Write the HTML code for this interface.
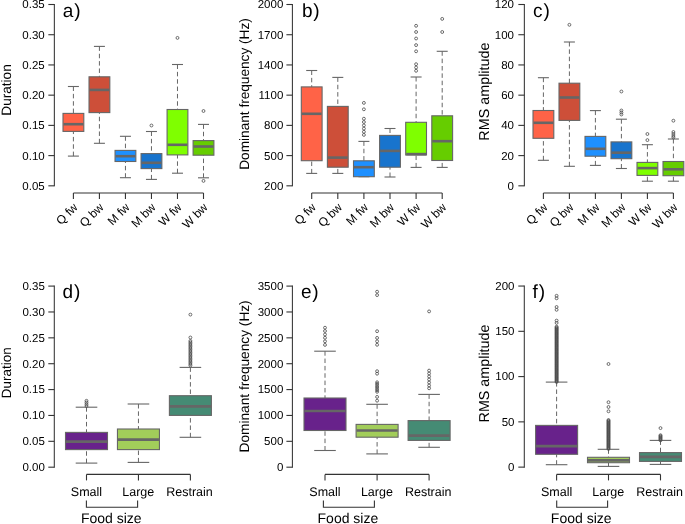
<!DOCTYPE html>
<html><head><meta charset="utf-8"><style>
html,body{margin:0;padding:0;background:#fff;}
body{width:685px;height:524px;overflow:hidden;}
svg{display:block;font-family:"Liberation Sans",sans-serif;text-rendering:geometricPrecision;will-change:transform;}
</style></head><body>
<svg width="685" height="524" viewBox="0 0 685 524">
<rect width="685" height="524" fill="#fff"/>
<line x1="54.35" y1="4" x2="54.35" y2="186.32" stroke="#333333" stroke-width="1.05"/>
<line x1="48.35" y1="4.5" x2="54.35" y2="4.5" stroke="#333333" stroke-width="1.1"/>
<text x="44.7" y="8.4" text-anchor="end" font-size="11.5">0.35</text>
<line x1="48.35" y1="34.72" x2="54.35" y2="34.72" stroke="#333333" stroke-width="1.1"/>
<text x="44.7" y="38.62" text-anchor="end" font-size="11.5">0.30</text>
<line x1="48.35" y1="64.94" x2="54.35" y2="64.94" stroke="#333333" stroke-width="1.1"/>
<text x="44.7" y="68.84" text-anchor="end" font-size="11.5">0.25</text>
<line x1="48.35" y1="95.16" x2="54.35" y2="95.16" stroke="#333333" stroke-width="1.1"/>
<text x="44.7" y="99.06" text-anchor="end" font-size="11.5">0.20</text>
<line x1="48.35" y1="125.38" x2="54.35" y2="125.38" stroke="#333333" stroke-width="1.1"/>
<text x="44.7" y="129.28" text-anchor="end" font-size="11.5">0.15</text>
<line x1="48.35" y1="155.6" x2="54.35" y2="155.6" stroke="#333333" stroke-width="1.1"/>
<text x="44.7" y="159.5" text-anchor="end" font-size="11.5">0.10</text>
<line x1="48.35" y1="185.82" x2="54.35" y2="185.82" stroke="#333333" stroke-width="1.1"/>
<text x="44.7" y="189.72" text-anchor="end" font-size="11.5">0.05</text>
<line x1="73.4" y1="193" x2="203.5" y2="193" stroke="#333333" stroke-width="1.1"/>
<line x1="73.4" y1="193" x2="73.4" y2="199" stroke="#333333" stroke-width="1.1"/>
<line x1="99.42" y1="193" x2="99.42" y2="199" stroke="#333333" stroke-width="1.1"/>
<line x1="125.44" y1="193" x2="125.44" y2="199" stroke="#333333" stroke-width="1.1"/>
<line x1="151.46" y1="193" x2="151.46" y2="199" stroke="#333333" stroke-width="1.1"/>
<line x1="177.48" y1="193" x2="177.48" y2="199" stroke="#333333" stroke-width="1.1"/>
<line x1="203.5" y1="193" x2="203.5" y2="199" stroke="#333333" stroke-width="1.1"/>
<line x1="73.4" y1="86.5" x2="73.4" y2="113.4" stroke="#666666" stroke-width="1" stroke-dasharray="4.5 2.85"/>
<line x1="73.4" y1="156.1" x2="73.4" y2="131.4" stroke="#666666" stroke-width="1" stroke-dasharray="4.5 2.85"/>
<line x1="67.9" y1="86.5" x2="78.9" y2="86.5" stroke="#666666" stroke-width="1.1"/>
<line x1="67.9" y1="156.1" x2="78.9" y2="156.1" stroke="#666666" stroke-width="1.1"/>
<rect x="63" y="113.4" width="20.8" height="18" fill="#FF6347" stroke="#666666" stroke-width="1.1"/>
<line x1="63.5" y1="124.2" x2="83.3" y2="124.2" stroke="#666666" stroke-width="2.6"/>
<line x1="99.42" y1="46.4" x2="99.42" y2="76.8" stroke="#666666" stroke-width="1" stroke-dasharray="4.5 2.85"/>
<line x1="99.42" y1="143.3" x2="99.42" y2="112.6" stroke="#666666" stroke-width="1" stroke-dasharray="4.5 2.85"/>
<line x1="93.92" y1="46.4" x2="104.92" y2="46.4" stroke="#666666" stroke-width="1.1"/>
<line x1="93.92" y1="143.3" x2="104.92" y2="143.3" stroke="#666666" stroke-width="1.1"/>
<rect x="89.02" y="76.8" width="20.8" height="35.8" fill="#CD4F39" stroke="#666666" stroke-width="1.1"/>
<line x1="89.52" y1="89.9" x2="109.32" y2="89.9" stroke="#666666" stroke-width="2.6"/>
<line x1="125.44" y1="136.3" x2="125.44" y2="150.4" stroke="#666666" stroke-width="1" stroke-dasharray="4.5 2.85"/>
<line x1="125.44" y1="177.7" x2="125.44" y2="161.5" stroke="#666666" stroke-width="1" stroke-dasharray="4.5 2.85"/>
<line x1="119.94" y1="136.3" x2="130.94" y2="136.3" stroke="#666666" stroke-width="1.1"/>
<line x1="119.94" y1="177.7" x2="130.94" y2="177.7" stroke="#666666" stroke-width="1.1"/>
<rect x="115.04" y="150.4" width="20.8" height="11.1" fill="#1E90FF" stroke="#666666" stroke-width="1.1"/>
<line x1="115.54" y1="156.2" x2="135.34" y2="156.2" stroke="#666666" stroke-width="2.6"/>
<line x1="151.46" y1="131.5" x2="151.46" y2="153.6" stroke="#666666" stroke-width="1" stroke-dasharray="4.5 2.85"/>
<line x1="151.46" y1="179.4" x2="151.46" y2="168.6" stroke="#666666" stroke-width="1" stroke-dasharray="4.5 2.85"/>
<line x1="145.96" y1="131.5" x2="156.96" y2="131.5" stroke="#666666" stroke-width="1.1"/>
<line x1="145.96" y1="179.4" x2="156.96" y2="179.4" stroke="#666666" stroke-width="1.1"/>
<rect x="141.06" y="153.6" width="20.8" height="15" fill="#1874CD" stroke="#666666" stroke-width="1.1"/>
<line x1="141.56" y1="162.8" x2="161.36" y2="162.8" stroke="#666666" stroke-width="2.6"/>
<circle cx="151.46" cy="125.5" r="1.45" fill="none" stroke="#4a4a4a" stroke-width="0.8"/>
<line x1="177.48" y1="64.5" x2="177.48" y2="109.5" stroke="#666666" stroke-width="1" stroke-dasharray="4.5 2.85"/>
<line x1="177.48" y1="173.2" x2="177.48" y2="154.9" stroke="#666666" stroke-width="1" stroke-dasharray="4.5 2.85"/>
<line x1="171.98" y1="64.5" x2="182.98" y2="64.5" stroke="#666666" stroke-width="1.1"/>
<line x1="171.98" y1="173.2" x2="182.98" y2="173.2" stroke="#666666" stroke-width="1.1"/>
<rect x="167.08" y="109.5" width="20.8" height="45.4" fill="#7FFF00" stroke="#666666" stroke-width="1.1"/>
<line x1="167.58" y1="144.8" x2="187.38" y2="144.8" stroke="#666666" stroke-width="2.6"/>
<circle cx="177.48" cy="37.9" r="1.45" fill="none" stroke="#4a4a4a" stroke-width="0.8"/>
<line x1="203.5" y1="124.4" x2="203.5" y2="140.6" stroke="#666666" stroke-width="1" stroke-dasharray="4.5 2.85"/>
<line x1="203.5" y1="177.8" x2="203.5" y2="155.2" stroke="#666666" stroke-width="1" stroke-dasharray="4.5 2.85"/>
<line x1="198" y1="124.4" x2="209" y2="124.4" stroke="#666666" stroke-width="1.1"/>
<line x1="198" y1="177.8" x2="209" y2="177.8" stroke="#666666" stroke-width="1.1"/>
<rect x="193.1" y="140.6" width="20.8" height="14.6" fill="#66CD00" stroke="#666666" stroke-width="1.1"/>
<line x1="193.6" y1="146.5" x2="213.4" y2="146.5" stroke="#666666" stroke-width="2.6"/>
<circle cx="203.5" cy="111" r="1.45" fill="none" stroke="#4a4a4a" stroke-width="0.8"/>
<circle cx="203.5" cy="180.9" r="1.45" fill="none" stroke="#4a4a4a" stroke-width="0.8"/>
<text transform="translate(78.4,208) rotate(-45)" text-anchor="end" font-size="12">Q fw</text>
<text transform="translate(104.42,208) rotate(-45)" text-anchor="end" font-size="12">Q bw</text>
<text transform="translate(130.44,208) rotate(-45)" text-anchor="end" font-size="12">M fw</text>
<text transform="translate(156.46,208) rotate(-45)" text-anchor="end" font-size="12">M bw</text>
<text transform="translate(182.48,208) rotate(-45)" text-anchor="end" font-size="12">W fw</text>
<text transform="translate(208.5,208) rotate(-45)" text-anchor="end" font-size="12">W bw</text>
<text transform="translate(11.1,90) rotate(-90)" text-anchor="middle" font-size="13.6">Duration</text>
<text x="62.7" y="16.7" font-size="19" letter-spacing="0.9">a)</text>
<line x1="292.4" y1="4" x2="292.4" y2="186.32" stroke="#333333" stroke-width="1.05"/>
<line x1="286.4" y1="4.5" x2="292.4" y2="4.5" stroke="#333333" stroke-width="1.1"/>
<text x="283.3" y="8.4" text-anchor="end" font-size="11.5">2000</text>
<line x1="286.4" y1="34.72" x2="292.4" y2="34.72" stroke="#333333" stroke-width="1.1"/>
<text x="283.3" y="38.62" text-anchor="end" font-size="11.5">1700</text>
<line x1="286.4" y1="64.94" x2="292.4" y2="64.94" stroke="#333333" stroke-width="1.1"/>
<text x="283.3" y="68.84" text-anchor="end" font-size="11.5">1400</text>
<line x1="286.4" y1="95.16" x2="292.4" y2="95.16" stroke="#333333" stroke-width="1.1"/>
<text x="283.3" y="99.06" text-anchor="end" font-size="11.5">1100</text>
<line x1="286.4" y1="125.38" x2="292.4" y2="125.38" stroke="#333333" stroke-width="1.1"/>
<text x="283.3" y="129.28" text-anchor="end" font-size="11.5">800</text>
<line x1="286.4" y1="155.6" x2="292.4" y2="155.6" stroke="#333333" stroke-width="1.1"/>
<text x="283.3" y="159.5" text-anchor="end" font-size="11.5">500</text>
<line x1="286.4" y1="185.82" x2="292.4" y2="185.82" stroke="#333333" stroke-width="1.1"/>
<text x="283.3" y="189.72" text-anchor="end" font-size="11.5">200</text>
<line x1="311.7" y1="193" x2="442.2" y2="193" stroke="#333333" stroke-width="1.1"/>
<line x1="311.7" y1="193" x2="311.7" y2="199" stroke="#333333" stroke-width="1.1"/>
<line x1="337.8" y1="193" x2="337.8" y2="199" stroke="#333333" stroke-width="1.1"/>
<line x1="363.9" y1="193" x2="363.9" y2="199" stroke="#333333" stroke-width="1.1"/>
<line x1="390" y1="193" x2="390" y2="199" stroke="#333333" stroke-width="1.1"/>
<line x1="416.1" y1="193" x2="416.1" y2="199" stroke="#333333" stroke-width="1.1"/>
<line x1="442.2" y1="193" x2="442.2" y2="199" stroke="#333333" stroke-width="1.1"/>
<line x1="311.7" y1="70.5" x2="311.7" y2="86.9" stroke="#666666" stroke-width="1" stroke-dasharray="4.5 2.85"/>
<line x1="311.7" y1="173.4" x2="311.7" y2="160.7" stroke="#666666" stroke-width="1" stroke-dasharray="4.5 2.85"/>
<line x1="306.2" y1="70.5" x2="317.2" y2="70.5" stroke="#666666" stroke-width="1.1"/>
<line x1="306.2" y1="173.4" x2="317.2" y2="173.4" stroke="#666666" stroke-width="1.1"/>
<rect x="301.3" y="86.9" width="20.8" height="73.8" fill="#FF6347" stroke="#666666" stroke-width="1.1"/>
<line x1="301.8" y1="113.8" x2="321.6" y2="113.8" stroke="#666666" stroke-width="2.6"/>
<line x1="337.8" y1="77.4" x2="337.8" y2="106.4" stroke="#666666" stroke-width="1" stroke-dasharray="4.5 2.85"/>
<line x1="337.8" y1="173.4" x2="337.8" y2="167.2" stroke="#666666" stroke-width="1" stroke-dasharray="4.5 2.85"/>
<line x1="332.3" y1="77.4" x2="343.3" y2="77.4" stroke="#666666" stroke-width="1.1"/>
<line x1="332.3" y1="173.4" x2="343.3" y2="173.4" stroke="#666666" stroke-width="1.1"/>
<rect x="327.4" y="106.4" width="20.8" height="60.8" fill="#CD4F39" stroke="#666666" stroke-width="1.1"/>
<line x1="327.9" y1="157.6" x2="347.7" y2="157.6" stroke="#666666" stroke-width="2.6"/>
<line x1="363.9" y1="141.4" x2="363.9" y2="160.8" stroke="#666666" stroke-width="1" stroke-dasharray="4.5 2.85"/>
<line x1="358.4" y1="141.4" x2="369.4" y2="141.4" stroke="#666666" stroke-width="1.1"/>
<line x1="358.4" y1="176.7" x2="369.4" y2="176.7" stroke="#666666" stroke-width="1.1"/>
<rect x="353.5" y="160.8" width="20.8" height="15.9" fill="#1E90FF" stroke="#666666" stroke-width="1.1"/>
<line x1="354" y1="167.2" x2="373.8" y2="167.2" stroke="#666666" stroke-width="2.6"/>
<circle cx="363.9" cy="102.9" r="1.45" fill="none" stroke="#4a4a4a" stroke-width="0.8"/>
<circle cx="363.9" cy="109.3" r="1.45" fill="none" stroke="#4a4a4a" stroke-width="0.8"/>
<circle cx="363.9" cy="118.7" r="1.45" fill="none" stroke="#4a4a4a" stroke-width="0.8"/>
<circle cx="363.9" cy="122" r="1.45" fill="none" stroke="#4a4a4a" stroke-width="0.8"/>
<circle cx="363.9" cy="125.4" r="1.45" fill="none" stroke="#4a4a4a" stroke-width="0.8"/>
<circle cx="363.9" cy="128.6" r="1.45" fill="none" stroke="#4a4a4a" stroke-width="0.8"/>
<circle cx="363.9" cy="131.8" r="1.45" fill="none" stroke="#4a4a4a" stroke-width="0.8"/>
<circle cx="363.9" cy="134.9" r="1.45" fill="none" stroke="#4a4a4a" stroke-width="0.8"/>
<line x1="390" y1="128.5" x2="390" y2="135.4" stroke="#666666" stroke-width="1" stroke-dasharray="4.5 2.85"/>
<line x1="390" y1="177" x2="390" y2="167.2" stroke="#666666" stroke-width="1" stroke-dasharray="4.5 2.85"/>
<line x1="384.5" y1="128.5" x2="395.5" y2="128.5" stroke="#666666" stroke-width="1.1"/>
<line x1="384.5" y1="177" x2="395.5" y2="177" stroke="#666666" stroke-width="1.1"/>
<rect x="379.6" y="135.4" width="20.8" height="31.8" fill="#1874CD" stroke="#666666" stroke-width="1.1"/>
<line x1="380.1" y1="150.9" x2="399.9" y2="150.9" stroke="#666666" stroke-width="2.6"/>
<line x1="416.1" y1="77" x2="416.1" y2="122.3" stroke="#666666" stroke-width="1" stroke-dasharray="4.5 2.85"/>
<line x1="416.1" y1="167.4" x2="416.1" y2="155" stroke="#666666" stroke-width="1" stroke-dasharray="4.5 2.85"/>
<line x1="410.6" y1="77" x2="421.6" y2="77" stroke="#666666" stroke-width="1.1"/>
<line x1="410.6" y1="167.4" x2="421.6" y2="167.4" stroke="#666666" stroke-width="1.1"/>
<rect x="405.7" y="122.3" width="20.8" height="32.7" fill="#7FFF00" stroke="#666666" stroke-width="1.1"/>
<line x1="406.2" y1="154.1" x2="426" y2="154.1" stroke="#666666" stroke-width="2.6"/>
<circle cx="416.1" cy="25.8" r="1.45" fill="none" stroke="#4a4a4a" stroke-width="0.8"/>
<circle cx="416.1" cy="32" r="1.45" fill="none" stroke="#4a4a4a" stroke-width="0.8"/>
<circle cx="416.1" cy="38.5" r="1.45" fill="none" stroke="#4a4a4a" stroke-width="0.8"/>
<circle cx="416.1" cy="45.1" r="1.45" fill="none" stroke="#4a4a4a" stroke-width="0.8"/>
<circle cx="416.1" cy="51.3" r="1.45" fill="none" stroke="#4a4a4a" stroke-width="0.8"/>
<circle cx="416.1" cy="64.2" r="1.45" fill="none" stroke="#4a4a4a" stroke-width="0.8"/>
<circle cx="416.1" cy="67.5" r="1.45" fill="none" stroke="#4a4a4a" stroke-width="0.8"/>
<circle cx="416.1" cy="70.8" r="1.45" fill="none" stroke="#4a4a4a" stroke-width="0.8"/>
<line x1="442.2" y1="51.3" x2="442.2" y2="115.8" stroke="#666666" stroke-width="1" stroke-dasharray="4.5 2.85"/>
<line x1="442.2" y1="167.4" x2="442.2" y2="160.5" stroke="#666666" stroke-width="1" stroke-dasharray="4.5 2.85"/>
<line x1="436.7" y1="51.3" x2="447.7" y2="51.3" stroke="#666666" stroke-width="1.1"/>
<line x1="436.7" y1="167.4" x2="447.7" y2="167.4" stroke="#666666" stroke-width="1.1"/>
<rect x="431.8" y="115.8" width="20.8" height="44.7" fill="#66CD00" stroke="#666666" stroke-width="1.1"/>
<line x1="432.3" y1="141.2" x2="452.1" y2="141.2" stroke="#666666" stroke-width="2.6"/>
<circle cx="442.2" cy="18.9" r="1.45" fill="none" stroke="#4a4a4a" stroke-width="0.8"/>
<circle cx="442.2" cy="32" r="1.45" fill="none" stroke="#4a4a4a" stroke-width="0.8"/>
<text transform="translate(316.7,208) rotate(-45)" text-anchor="end" font-size="12">Q fw</text>
<text transform="translate(342.8,208) rotate(-45)" text-anchor="end" font-size="12">Q bw</text>
<text transform="translate(368.9,208) rotate(-45)" text-anchor="end" font-size="12">M fw</text>
<text transform="translate(395,208) rotate(-45)" text-anchor="end" font-size="12">M bw</text>
<text transform="translate(421.1,208) rotate(-45)" text-anchor="end" font-size="12">W fw</text>
<text transform="translate(447.2,208) rotate(-45)" text-anchor="end" font-size="12">W bw</text>
<text transform="translate(248.7,94) rotate(-90)" text-anchor="middle" font-size="13.64">Dominant frequency (Hz)</text>
<text x="301.9" y="16.7" font-size="19" letter-spacing="0.9">b)</text>
<line x1="524.35" y1="4" x2="524.35" y2="186.32" stroke="#333333" stroke-width="1.05"/>
<line x1="518.35" y1="4.5" x2="524.35" y2="4.5" stroke="#333333" stroke-width="1.1"/>
<text x="514" y="8.4" text-anchor="end" font-size="11.5">120</text>
<line x1="518.35" y1="34.72" x2="524.35" y2="34.72" stroke="#333333" stroke-width="1.1"/>
<text x="514" y="38.62" text-anchor="end" font-size="11.5">100</text>
<line x1="518.35" y1="64.94" x2="524.35" y2="64.94" stroke="#333333" stroke-width="1.1"/>
<text x="514" y="68.84" text-anchor="end" font-size="11.5">80</text>
<line x1="518.35" y1="95.16" x2="524.35" y2="95.16" stroke="#333333" stroke-width="1.1"/>
<text x="514" y="99.06" text-anchor="end" font-size="11.5">60</text>
<line x1="518.35" y1="125.38" x2="524.35" y2="125.38" stroke="#333333" stroke-width="1.1"/>
<text x="514" y="129.28" text-anchor="end" font-size="11.5">40</text>
<line x1="518.35" y1="155.6" x2="524.35" y2="155.6" stroke="#333333" stroke-width="1.1"/>
<text x="514" y="159.5" text-anchor="end" font-size="11.5">20</text>
<line x1="518.35" y1="185.82" x2="524.35" y2="185.82" stroke="#333333" stroke-width="1.1"/>
<text x="514" y="189.72" text-anchor="end" font-size="11.5">0</text>
<line x1="543.4" y1="193" x2="673.4" y2="193" stroke="#333333" stroke-width="1.1"/>
<line x1="543.4" y1="193" x2="543.4" y2="199" stroke="#333333" stroke-width="1.1"/>
<line x1="569.4" y1="193" x2="569.4" y2="199" stroke="#333333" stroke-width="1.1"/>
<line x1="595.4" y1="193" x2="595.4" y2="199" stroke="#333333" stroke-width="1.1"/>
<line x1="621.4" y1="193" x2="621.4" y2="199" stroke="#333333" stroke-width="1.1"/>
<line x1="647.4" y1="193" x2="647.4" y2="199" stroke="#333333" stroke-width="1.1"/>
<line x1="673.4" y1="193" x2="673.4" y2="199" stroke="#333333" stroke-width="1.1"/>
<line x1="543.4" y1="77.7" x2="543.4" y2="110.5" stroke="#666666" stroke-width="1" stroke-dasharray="4.5 2.85"/>
<line x1="543.4" y1="160.3" x2="543.4" y2="138.3" stroke="#666666" stroke-width="1" stroke-dasharray="4.5 2.85"/>
<line x1="537.9" y1="77.7" x2="548.9" y2="77.7" stroke="#666666" stroke-width="1.1"/>
<line x1="537.9" y1="160.3" x2="548.9" y2="160.3" stroke="#666666" stroke-width="1.1"/>
<rect x="533" y="110.5" width="20.8" height="27.8" fill="#FF6347" stroke="#666666" stroke-width="1.1"/>
<line x1="533.5" y1="122.8" x2="553.3" y2="122.8" stroke="#666666" stroke-width="2.6"/>
<line x1="569.4" y1="42" x2="569.4" y2="83.2" stroke="#666666" stroke-width="1" stroke-dasharray="4.5 2.85"/>
<line x1="569.4" y1="166.3" x2="569.4" y2="120.4" stroke="#666666" stroke-width="1" stroke-dasharray="4.5 2.85"/>
<line x1="563.9" y1="42" x2="574.9" y2="42" stroke="#666666" stroke-width="1.1"/>
<line x1="563.9" y1="166.3" x2="574.9" y2="166.3" stroke="#666666" stroke-width="1.1"/>
<rect x="559" y="83.2" width="20.8" height="37.2" fill="#CD4F39" stroke="#666666" stroke-width="1.1"/>
<line x1="559.5" y1="97.5" x2="579.3" y2="97.5" stroke="#666666" stroke-width="2.6"/>
<circle cx="569.4" cy="24.8" r="1.45" fill="none" stroke="#4a4a4a" stroke-width="0.8"/>
<line x1="595.4" y1="110.6" x2="595.4" y2="136.4" stroke="#666666" stroke-width="1" stroke-dasharray="4.5 2.85"/>
<line x1="595.4" y1="165.4" x2="595.4" y2="156.2" stroke="#666666" stroke-width="1" stroke-dasharray="4.5 2.85"/>
<line x1="589.9" y1="110.6" x2="600.9" y2="110.6" stroke="#666666" stroke-width="1.1"/>
<line x1="589.9" y1="165.4" x2="600.9" y2="165.4" stroke="#666666" stroke-width="1.1"/>
<rect x="585" y="136.4" width="20.8" height="19.8" fill="#1E90FF" stroke="#666666" stroke-width="1.1"/>
<line x1="585.5" y1="148.8" x2="605.3" y2="148.8" stroke="#666666" stroke-width="2.6"/>
<line x1="621.4" y1="119.2" x2="621.4" y2="141.9" stroke="#666666" stroke-width="1" stroke-dasharray="4.5 2.85"/>
<line x1="621.4" y1="168.5" x2="621.4" y2="158.7" stroke="#666666" stroke-width="1" stroke-dasharray="4.5 2.85"/>
<line x1="615.9" y1="119.2" x2="626.9" y2="119.2" stroke="#666666" stroke-width="1.1"/>
<line x1="615.9" y1="168.5" x2="626.9" y2="168.5" stroke="#666666" stroke-width="1.1"/>
<rect x="611" y="141.9" width="20.8" height="16.8" fill="#1874CD" stroke="#666666" stroke-width="1.1"/>
<line x1="611.5" y1="152.7" x2="631.3" y2="152.7" stroke="#666666" stroke-width="2.6"/>
<circle cx="621.4" cy="91.5" r="1.45" fill="none" stroke="#4a4a4a" stroke-width="0.8"/>
<circle cx="621.4" cy="110.5" r="1.45" fill="none" stroke="#4a4a4a" stroke-width="0.8"/>
<circle cx="621.4" cy="112.5" r="1.45" fill="none" stroke="#4a4a4a" stroke-width="0.8"/>
<circle cx="621.4" cy="114.5" r="1.45" fill="none" stroke="#4a4a4a" stroke-width="0.8"/>
<line x1="647.4" y1="144.7" x2="647.4" y2="162.4" stroke="#666666" stroke-width="1" stroke-dasharray="4.5 2.85"/>
<line x1="647.4" y1="181.2" x2="647.4" y2="175.4" stroke="#666666" stroke-width="1" stroke-dasharray="4.5 2.85"/>
<line x1="641.9" y1="144.7" x2="652.9" y2="144.7" stroke="#666666" stroke-width="1.1"/>
<line x1="641.9" y1="181.2" x2="652.9" y2="181.2" stroke="#666666" stroke-width="1.1"/>
<rect x="637" y="162.4" width="20.8" height="13" fill="#7FFF00" stroke="#666666" stroke-width="1.1"/>
<line x1="637.5" y1="168.1" x2="657.3" y2="168.1" stroke="#666666" stroke-width="2.6"/>
<circle cx="647.4" cy="134" r="1.45" fill="none" stroke="#4a4a4a" stroke-width="0.8"/>
<circle cx="647.4" cy="140.1" r="1.45" fill="none" stroke="#4a4a4a" stroke-width="0.8"/>
<line x1="673.4" y1="139" x2="673.4" y2="161.5" stroke="#666666" stroke-width="1" stroke-dasharray="4.5 2.85"/>
<line x1="673.4" y1="181.2" x2="673.4" y2="175.7" stroke="#666666" stroke-width="1" stroke-dasharray="4.5 2.85"/>
<line x1="667.9" y1="139" x2="678.9" y2="139" stroke="#666666" stroke-width="1.1"/>
<line x1="667.9" y1="181.2" x2="678.9" y2="181.2" stroke="#666666" stroke-width="1.1"/>
<rect x="663" y="161.5" width="20.8" height="14.2" fill="#66CD00" stroke="#666666" stroke-width="1.1"/>
<line x1="663.5" y1="169.3" x2="683.3" y2="169.3" stroke="#666666" stroke-width="2.6"/>
<circle cx="673.4" cy="120.7" r="1.45" fill="none" stroke="#4a4a4a" stroke-width="0.8"/>
<circle cx="673.4" cy="132" r="1.45" fill="none" stroke="#4a4a4a" stroke-width="0.8"/>
<circle cx="673.4" cy="134" r="1.45" fill="none" stroke="#4a4a4a" stroke-width="0.8"/>
<circle cx="673.4" cy="136" r="1.45" fill="none" stroke="#4a4a4a" stroke-width="0.8"/>
<circle cx="673.4" cy="137.5" r="1.45" fill="none" stroke="#4a4a4a" stroke-width="0.8"/>
<text transform="translate(548.4,208) rotate(-45)" text-anchor="end" font-size="12">Q fw</text>
<text transform="translate(574.4,208) rotate(-45)" text-anchor="end" font-size="12">Q bw</text>
<text transform="translate(600.4,208) rotate(-45)" text-anchor="end" font-size="12">M fw</text>
<text transform="translate(626.4,208) rotate(-45)" text-anchor="end" font-size="12">M bw</text>
<text transform="translate(652.4,208) rotate(-45)" text-anchor="end" font-size="12">W fw</text>
<text transform="translate(678.4,208) rotate(-45)" text-anchor="end" font-size="12">W bw</text>
<text transform="translate(489.2,91.6) rotate(-90)" text-anchor="middle" font-size="14.35">RMS amplitude</text>
<text x="533" y="16.7" font-size="19" letter-spacing="0.9">c)</text>
<line x1="54.3" y1="285.6" x2="54.3" y2="467.69" stroke="#333333" stroke-width="1.05"/>
<line x1="48.3" y1="286.1" x2="54.3" y2="286.1" stroke="#333333" stroke-width="1.1"/>
<text x="44.8" y="290" text-anchor="end" font-size="11.5">0.35</text>
<line x1="48.3" y1="311.97" x2="54.3" y2="311.97" stroke="#333333" stroke-width="1.1"/>
<text x="44.8" y="315.87" text-anchor="end" font-size="11.5">0.30</text>
<line x1="48.3" y1="337.84" x2="54.3" y2="337.84" stroke="#333333" stroke-width="1.1"/>
<text x="44.8" y="341.74" text-anchor="end" font-size="11.5">0.25</text>
<line x1="48.3" y1="363.71" x2="54.3" y2="363.71" stroke="#333333" stroke-width="1.1"/>
<text x="44.8" y="367.61" text-anchor="end" font-size="11.5">0.20</text>
<line x1="48.3" y1="389.58" x2="54.3" y2="389.58" stroke="#333333" stroke-width="1.1"/>
<text x="44.8" y="393.48" text-anchor="end" font-size="11.5">0.15</text>
<line x1="48.3" y1="415.45" x2="54.3" y2="415.45" stroke="#333333" stroke-width="1.1"/>
<text x="44.8" y="419.35" text-anchor="end" font-size="11.5">0.10</text>
<line x1="48.3" y1="441.32" x2="54.3" y2="441.32" stroke="#333333" stroke-width="1.1"/>
<text x="44.8" y="445.22" text-anchor="end" font-size="11.5">0.05</text>
<line x1="48.3" y1="467.19" x2="54.3" y2="467.19" stroke="#333333" stroke-width="1.1"/>
<text x="44.8" y="471.09" text-anchor="end" font-size="11.5">0.00</text>
<line x1="86.5" y1="474.4" x2="190.4" y2="474.4" stroke="#333333" stroke-width="1.1"/>
<line x1="86.5" y1="474.4" x2="86.5" y2="480.4" stroke="#333333" stroke-width="1.1"/>
<line x1="138.45" y1="474.4" x2="138.45" y2="480.4" stroke="#333333" stroke-width="1.1"/>
<line x1="190.4" y1="474.4" x2="190.4" y2="480.4" stroke="#333333" stroke-width="1.1"/>
<line x1="86.5" y1="407.2" x2="86.5" y2="432.4" stroke="#666666" stroke-width="1" stroke-dasharray="4.5 2.85"/>
<line x1="86.5" y1="463.1" x2="86.5" y2="449.6" stroke="#666666" stroke-width="1" stroke-dasharray="4.5 2.85"/>
<line x1="75.7" y1="407.2" x2="97.3" y2="407.2" stroke="#666666" stroke-width="1.1"/>
<line x1="75.7" y1="463.1" x2="97.3" y2="463.1" stroke="#666666" stroke-width="1.1"/>
<rect x="65.5" y="432.4" width="42" height="17.2" fill="#68228B" stroke="#666666" stroke-width="1.1"/>
<line x1="66" y1="441.6" x2="107" y2="441.6" stroke="#666666" stroke-width="2.6"/>
<circle cx="86.5" cy="400.8" r="1.45" fill="none" stroke="#4a4a4a" stroke-width="0.8"/>
<circle cx="86.5" cy="402.53" r="1.45" fill="none" stroke="#4a4a4a" stroke-width="0.8"/>
<circle cx="86.5" cy="404.27" r="1.45" fill="none" stroke="#4a4a4a" stroke-width="0.8"/>
<circle cx="86.5" cy="406" r="1.45" fill="none" stroke="#4a4a4a" stroke-width="0.8"/>
<line x1="138.45" y1="404" x2="138.45" y2="429" stroke="#666666" stroke-width="1" stroke-dasharray="4.5 2.85"/>
<line x1="138.45" y1="462.4" x2="138.45" y2="449.6" stroke="#666666" stroke-width="1" stroke-dasharray="4.5 2.85"/>
<line x1="127.65" y1="404" x2="149.25" y2="404" stroke="#666666" stroke-width="1.1"/>
<line x1="127.65" y1="462.4" x2="149.25" y2="462.4" stroke="#666666" stroke-width="1.1"/>
<rect x="117.45" y="429" width="42" height="20.6" fill="#A2CD5A" stroke="#666666" stroke-width="1.1"/>
<line x1="117.95" y1="439.6" x2="158.95" y2="439.6" stroke="#666666" stroke-width="2.6"/>
<line x1="190.4" y1="367.4" x2="190.4" y2="395.7" stroke="#666666" stroke-width="1" stroke-dasharray="4.5 2.85"/>
<line x1="190.4" y1="437.3" x2="190.4" y2="415.4" stroke="#666666" stroke-width="1" stroke-dasharray="4.5 2.85"/>
<line x1="179.6" y1="367.4" x2="201.2" y2="367.4" stroke="#666666" stroke-width="1.1"/>
<line x1="179.6" y1="437.3" x2="201.2" y2="437.3" stroke="#666666" stroke-width="1.1"/>
<rect x="169.4" y="395.7" width="42" height="19.7" fill="#458B74" stroke="#666666" stroke-width="1.1"/>
<line x1="169.9" y1="406.4" x2="210.9" y2="406.4" stroke="#666666" stroke-width="2.6"/>
<circle cx="190.4" cy="314.6" r="1.45" fill="none" stroke="#4a4a4a" stroke-width="0.8"/>
<circle cx="190.4" cy="337.5" r="1.45" fill="none" stroke="#4a4a4a" stroke-width="0.8"/>
<circle cx="190.4" cy="340.9" r="1.45" fill="none" stroke="#4a4a4a" stroke-width="0.8"/>
<circle cx="190.4" cy="342.35" r="1.45" fill="none" stroke="#4a4a4a" stroke-width="0.8"/>
<circle cx="190.4" cy="343.79" r="1.45" fill="none" stroke="#4a4a4a" stroke-width="0.8"/>
<circle cx="190.4" cy="345.24" r="1.45" fill="none" stroke="#4a4a4a" stroke-width="0.8"/>
<circle cx="190.4" cy="346.69" r="1.45" fill="none" stroke="#4a4a4a" stroke-width="0.8"/>
<circle cx="190.4" cy="348.14" r="1.45" fill="none" stroke="#4a4a4a" stroke-width="0.8"/>
<circle cx="190.4" cy="349.58" r="1.45" fill="none" stroke="#4a4a4a" stroke-width="0.8"/>
<circle cx="190.4" cy="351.03" r="1.45" fill="none" stroke="#4a4a4a" stroke-width="0.8"/>
<circle cx="190.4" cy="352.48" r="1.45" fill="none" stroke="#4a4a4a" stroke-width="0.8"/>
<circle cx="190.4" cy="353.92" r="1.45" fill="none" stroke="#4a4a4a" stroke-width="0.8"/>
<circle cx="190.4" cy="355.37" r="1.45" fill="none" stroke="#4a4a4a" stroke-width="0.8"/>
<circle cx="190.4" cy="356.82" r="1.45" fill="none" stroke="#4a4a4a" stroke-width="0.8"/>
<circle cx="190.4" cy="358.26" r="1.45" fill="none" stroke="#4a4a4a" stroke-width="0.8"/>
<circle cx="190.4" cy="359.71" r="1.45" fill="none" stroke="#4a4a4a" stroke-width="0.8"/>
<circle cx="190.4" cy="361.16" r="1.45" fill="none" stroke="#4a4a4a" stroke-width="0.8"/>
<circle cx="190.4" cy="362.61" r="1.45" fill="none" stroke="#4a4a4a" stroke-width="0.8"/>
<circle cx="190.4" cy="364.05" r="1.45" fill="none" stroke="#4a4a4a" stroke-width="0.8"/>
<circle cx="190.4" cy="365.5" r="1.45" fill="none" stroke="#4a4a4a" stroke-width="0.8"/>
<text x="86.5" y="495.8" text-anchor="middle" font-size="12.5">Small</text>
<text x="138.25" y="495.8" text-anchor="middle" font-size="12.5">Large</text>
<text x="189.5" y="495.8" text-anchor="middle" font-size="12.5">Restrain</text>
<path d="M86.4 500.6V507.3H137.6V500.6" fill="none" stroke="#333333" stroke-width="1.1"/>
<text x="111.3" y="522.6" text-anchor="middle" font-size="14">Food size</text>
<text transform="translate(11.3,372.8) rotate(-90)" text-anchor="middle" font-size="13.45">Duration</text>
<text x="62.5" y="297.6" font-size="19" letter-spacing="0.9">d)</text>
<line x1="292.4" y1="285.6" x2="292.4" y2="467.69" stroke="#333333" stroke-width="1.05"/>
<line x1="286.4" y1="286.1" x2="292.4" y2="286.1" stroke="#333333" stroke-width="1.1"/>
<text x="283.3" y="290" text-anchor="end" font-size="11.5">3500</text>
<line x1="286.4" y1="311.97" x2="292.4" y2="311.97" stroke="#333333" stroke-width="1.1"/>
<text x="283.3" y="315.87" text-anchor="end" font-size="11.5">3000</text>
<line x1="286.4" y1="337.84" x2="292.4" y2="337.84" stroke="#333333" stroke-width="1.1"/>
<text x="283.3" y="341.74" text-anchor="end" font-size="11.5">2500</text>
<line x1="286.4" y1="363.71" x2="292.4" y2="363.71" stroke="#333333" stroke-width="1.1"/>
<text x="283.3" y="367.61" text-anchor="end" font-size="11.5">2000</text>
<line x1="286.4" y1="389.58" x2="292.4" y2="389.58" stroke="#333333" stroke-width="1.1"/>
<text x="283.3" y="393.48" text-anchor="end" font-size="11.5">1500</text>
<line x1="286.4" y1="415.45" x2="292.4" y2="415.45" stroke="#333333" stroke-width="1.1"/>
<text x="283.3" y="419.35" text-anchor="end" font-size="11.5">1000</text>
<line x1="286.4" y1="441.32" x2="292.4" y2="441.32" stroke="#333333" stroke-width="1.1"/>
<text x="283.3" y="445.22" text-anchor="end" font-size="11.5">500</text>
<line x1="286.4" y1="467.19" x2="292.4" y2="467.19" stroke="#333333" stroke-width="1.1"/>
<text x="283.3" y="471.09" text-anchor="end" font-size="11.5">0</text>
<line x1="325" y1="474.4" x2="429.1" y2="474.4" stroke="#333333" stroke-width="1.1"/>
<line x1="325" y1="474.4" x2="325" y2="480.4" stroke="#333333" stroke-width="1.1"/>
<line x1="377.1" y1="474.4" x2="377.1" y2="480.4" stroke="#333333" stroke-width="1.1"/>
<line x1="429.1" y1="474.4" x2="429.1" y2="480.4" stroke="#333333" stroke-width="1.1"/>
<line x1="325" y1="351.2" x2="325" y2="398" stroke="#666666" stroke-width="1" stroke-dasharray="4.5 2.85"/>
<line x1="325" y1="450.5" x2="325" y2="430.5" stroke="#666666" stroke-width="1" stroke-dasharray="4.5 2.85"/>
<line x1="314.2" y1="351.2" x2="335.8" y2="351.2" stroke="#666666" stroke-width="1.1"/>
<line x1="314.2" y1="450.5" x2="335.8" y2="450.5" stroke="#666666" stroke-width="1.1"/>
<rect x="304" y="398" width="42" height="32.5" fill="#68228B" stroke="#666666" stroke-width="1.1"/>
<line x1="304.5" y1="411" x2="345.5" y2="411" stroke="#666666" stroke-width="2.6"/>
<circle cx="325" cy="327.7" r="1.45" fill="none" stroke="#4a4a4a" stroke-width="0.8"/>
<circle cx="325" cy="331" r="1.45" fill="none" stroke="#4a4a4a" stroke-width="0.8"/>
<circle cx="325" cy="334.5" r="1.45" fill="none" stroke="#4a4a4a" stroke-width="0.8"/>
<circle cx="325" cy="337.8" r="1.45" fill="none" stroke="#4a4a4a" stroke-width="0.8"/>
<circle cx="325" cy="341.3" r="1.45" fill="none" stroke="#4a4a4a" stroke-width="0.8"/>
<circle cx="325" cy="344.9" r="1.45" fill="none" stroke="#4a4a4a" stroke-width="0.8"/>
<line x1="377.1" y1="404.3" x2="377.1" y2="424.4" stroke="#666666" stroke-width="1" stroke-dasharray="4.5 2.85"/>
<line x1="377.1" y1="453.9" x2="377.1" y2="437.2" stroke="#666666" stroke-width="1" stroke-dasharray="4.5 2.85"/>
<line x1="366.3" y1="404.3" x2="387.9" y2="404.3" stroke="#666666" stroke-width="1.1"/>
<line x1="366.3" y1="453.9" x2="387.9" y2="453.9" stroke="#666666" stroke-width="1.1"/>
<rect x="356.1" y="424.4" width="42" height="12.8" fill="#A2CD5A" stroke="#666666" stroke-width="1.1"/>
<line x1="356.6" y1="430.5" x2="397.6" y2="430.5" stroke="#666666" stroke-width="2.6"/>
<circle cx="377.1" cy="291.7" r="1.45" fill="none" stroke="#4a4a4a" stroke-width="0.8"/>
<circle cx="377.1" cy="295.1" r="1.45" fill="none" stroke="#4a4a4a" stroke-width="0.8"/>
<circle cx="377.1" cy="331.2" r="1.45" fill="none" stroke="#4a4a4a" stroke-width="0.8"/>
<circle cx="377.1" cy="337.9" r="1.45" fill="none" stroke="#4a4a4a" stroke-width="0.8"/>
<circle cx="377.1" cy="341.3" r="1.45" fill="none" stroke="#4a4a4a" stroke-width="0.8"/>
<circle cx="377.1" cy="344.8" r="1.45" fill="none" stroke="#4a4a4a" stroke-width="0.8"/>
<circle cx="377.1" cy="371.2" r="1.45" fill="none" stroke="#4a4a4a" stroke-width="0.8"/>
<circle cx="377.1" cy="373.7" r="1.45" fill="none" stroke="#4a4a4a" stroke-width="0.8"/>
<circle cx="377.1" cy="396.9" r="1.45" fill="none" stroke="#4a4a4a" stroke-width="0.8"/>
<circle cx="377.1" cy="400.7" r="1.45" fill="none" stroke="#4a4a4a" stroke-width="0.8"/>
<circle cx="377.1" cy="382.3" r="1.45" fill="none" stroke="#4a4a4a" stroke-width="0.8"/>
<circle cx="377.1" cy="383.88" r="1.45" fill="none" stroke="#4a4a4a" stroke-width="0.8"/>
<circle cx="377.1" cy="385.47" r="1.45" fill="none" stroke="#4a4a4a" stroke-width="0.8"/>
<circle cx="377.1" cy="387.05" r="1.45" fill="none" stroke="#4a4a4a" stroke-width="0.8"/>
<circle cx="377.1" cy="388.63" r="1.45" fill="none" stroke="#4a4a4a" stroke-width="0.8"/>
<circle cx="377.1" cy="390.22" r="1.45" fill="none" stroke="#4a4a4a" stroke-width="0.8"/>
<circle cx="377.1" cy="391.8" r="1.45" fill="none" stroke="#4a4a4a" stroke-width="0.8"/>
<line x1="429.1" y1="394.4" x2="429.1" y2="420.6" stroke="#666666" stroke-width="1" stroke-dasharray="4.5 2.85"/>
<line x1="429.1" y1="447.3" x2="429.1" y2="440.4" stroke="#666666" stroke-width="1" stroke-dasharray="4.5 2.85"/>
<line x1="418.3" y1="394.4" x2="439.9" y2="394.4" stroke="#666666" stroke-width="1.1"/>
<line x1="418.3" y1="447.3" x2="439.9" y2="447.3" stroke="#666666" stroke-width="1.1"/>
<rect x="408.1" y="420.6" width="42" height="19.8" fill="#458B74" stroke="#666666" stroke-width="1.1"/>
<line x1="408.6" y1="435.6" x2="449.6" y2="435.6" stroke="#666666" stroke-width="2.6"/>
<circle cx="429.1" cy="311.4" r="1.45" fill="none" stroke="#4a4a4a" stroke-width="0.8"/>
<circle cx="429.1" cy="370.6" r="1.45" fill="none" stroke="#4a4a4a" stroke-width="0.8"/>
<circle cx="429.1" cy="373.5" r="1.45" fill="none" stroke="#4a4a4a" stroke-width="0.8"/>
<circle cx="429.1" cy="376.5" r="1.45" fill="none" stroke="#4a4a4a" stroke-width="0.8"/>
<circle cx="429.1" cy="379.5" r="1.45" fill="none" stroke="#4a4a4a" stroke-width="0.8"/>
<circle cx="429.1" cy="382.5" r="1.45" fill="none" stroke="#4a4a4a" stroke-width="0.8"/>
<circle cx="429.1" cy="385.5" r="1.45" fill="none" stroke="#4a4a4a" stroke-width="0.8"/>
<circle cx="429.1" cy="388.3" r="1.45" fill="none" stroke="#4a4a4a" stroke-width="0.8"/>
<text x="325" y="495.8" text-anchor="middle" font-size="12.5">Small</text>
<text x="376.9" y="495.8" text-anchor="middle" font-size="12.5">Large</text>
<text x="428.2" y="495.8" text-anchor="middle" font-size="12.5">Restrain</text>
<path d="M323.4 500.6V507.3H374.4V500.6" fill="none" stroke="#333333" stroke-width="1.1"/>
<text x="347.9" y="522.6" text-anchor="middle" font-size="14">Food size</text>
<text transform="translate(248.8,376.4) rotate(-90)" text-anchor="middle" font-size="13.7">Dominant frequency (Hz)</text>
<text x="300.9" y="297.6" font-size="19" letter-spacing="0.9">e)</text>
<line x1="524.3" y1="285.55" x2="524.3" y2="467.63" stroke="#333333" stroke-width="1.05"/>
<line x1="518.3" y1="286.05" x2="524.3" y2="286.05" stroke="#333333" stroke-width="1.1"/>
<text x="514.5" y="289.95" text-anchor="end" font-size="11.5">200</text>
<line x1="518.3" y1="331.32" x2="524.3" y2="331.32" stroke="#333333" stroke-width="1.1"/>
<text x="514.5" y="335.22" text-anchor="end" font-size="11.5">150</text>
<line x1="518.3" y1="376.59" x2="524.3" y2="376.59" stroke="#333333" stroke-width="1.1"/>
<text x="514.5" y="380.49" text-anchor="end" font-size="11.5">100</text>
<line x1="518.3" y1="421.86" x2="524.3" y2="421.86" stroke="#333333" stroke-width="1.1"/>
<text x="514.5" y="425.76" text-anchor="end" font-size="11.5">50</text>
<line x1="518.3" y1="467.13" x2="524.3" y2="467.13" stroke="#333333" stroke-width="1.1"/>
<text x="514.5" y="471.03" text-anchor="end" font-size="11.5">0</text>
<line x1="556.6" y1="474.4" x2="660.5" y2="474.4" stroke="#333333" stroke-width="1.1"/>
<line x1="556.6" y1="474.4" x2="556.6" y2="480.4" stroke="#333333" stroke-width="1.1"/>
<line x1="608.5" y1="474.4" x2="608.5" y2="480.4" stroke="#333333" stroke-width="1.1"/>
<line x1="660.5" y1="474.4" x2="660.5" y2="480.4" stroke="#333333" stroke-width="1.1"/>
<line x1="556.6" y1="382.1" x2="556.6" y2="425.4" stroke="#666666" stroke-width="1" stroke-dasharray="4.5 2.85"/>
<line x1="556.6" y1="464.7" x2="556.6" y2="454.3" stroke="#666666" stroke-width="1" stroke-dasharray="4.5 2.85"/>
<line x1="545.8" y1="382.1" x2="567.4" y2="382.1" stroke="#666666" stroke-width="1.1"/>
<line x1="545.8" y1="464.7" x2="567.4" y2="464.7" stroke="#666666" stroke-width="1.1"/>
<rect x="535.6" y="425.4" width="42" height="28.9" fill="#68228B" stroke="#666666" stroke-width="1.1"/>
<line x1="536.1" y1="446.1" x2="577.1" y2="446.1" stroke="#666666" stroke-width="2.6"/>
<circle cx="556.6" cy="295.8" r="1.45" fill="none" stroke="#4a4a4a" stroke-width="0.8"/>
<circle cx="556.6" cy="298.3" r="1.45" fill="none" stroke="#4a4a4a" stroke-width="0.8"/>
<circle cx="556.6" cy="307" r="1.45" fill="none" stroke="#4a4a4a" stroke-width="0.8"/>
<circle cx="556.6" cy="309.8" r="1.45" fill="none" stroke="#4a4a4a" stroke-width="0.8"/>
<circle cx="556.6" cy="320.6" r="1.45" fill="none" stroke="#4a4a4a" stroke-width="0.8"/>
<circle cx="556.6" cy="322.9" r="1.45" fill="none" stroke="#4a4a4a" stroke-width="0.8"/>
<circle cx="556.6" cy="326.7" r="1.45" fill="none" stroke="#4a4a4a" stroke-width="0.8"/>
<circle cx="556.6" cy="327.5" r="1.45" fill="none" stroke="#4a4a4a" stroke-width="0.8"/>
<circle cx="556.6" cy="328.3" r="1.45" fill="none" stroke="#4a4a4a" stroke-width="0.8"/>
<circle cx="556.6" cy="329.1" r="1.45" fill="none" stroke="#4a4a4a" stroke-width="0.8"/>
<circle cx="556.6" cy="329.91" r="1.45" fill="none" stroke="#4a4a4a" stroke-width="0.8"/>
<circle cx="556.6" cy="330.71" r="1.45" fill="none" stroke="#4a4a4a" stroke-width="0.8"/>
<circle cx="556.6" cy="331.51" r="1.45" fill="none" stroke="#4a4a4a" stroke-width="0.8"/>
<circle cx="556.6" cy="332.31" r="1.45" fill="none" stroke="#4a4a4a" stroke-width="0.8"/>
<circle cx="556.6" cy="333.11" r="1.45" fill="none" stroke="#4a4a4a" stroke-width="0.8"/>
<circle cx="556.6" cy="333.91" r="1.45" fill="none" stroke="#4a4a4a" stroke-width="0.8"/>
<circle cx="556.6" cy="334.71" r="1.45" fill="none" stroke="#4a4a4a" stroke-width="0.8"/>
<circle cx="556.6" cy="335.52" r="1.45" fill="none" stroke="#4a4a4a" stroke-width="0.8"/>
<circle cx="556.6" cy="336.32" r="1.45" fill="none" stroke="#4a4a4a" stroke-width="0.8"/>
<circle cx="556.6" cy="337.12" r="1.45" fill="none" stroke="#4a4a4a" stroke-width="0.8"/>
<circle cx="556.6" cy="337.92" r="1.45" fill="none" stroke="#4a4a4a" stroke-width="0.8"/>
<circle cx="556.6" cy="338.72" r="1.45" fill="none" stroke="#4a4a4a" stroke-width="0.8"/>
<circle cx="556.6" cy="339.52" r="1.45" fill="none" stroke="#4a4a4a" stroke-width="0.8"/>
<circle cx="556.6" cy="340.32" r="1.45" fill="none" stroke="#4a4a4a" stroke-width="0.8"/>
<circle cx="556.6" cy="341.13" r="1.45" fill="none" stroke="#4a4a4a" stroke-width="0.8"/>
<circle cx="556.6" cy="341.93" r="1.45" fill="none" stroke="#4a4a4a" stroke-width="0.8"/>
<circle cx="556.6" cy="342.73" r="1.45" fill="none" stroke="#4a4a4a" stroke-width="0.8"/>
<circle cx="556.6" cy="343.53" r="1.45" fill="none" stroke="#4a4a4a" stroke-width="0.8"/>
<circle cx="556.6" cy="344.33" r="1.45" fill="none" stroke="#4a4a4a" stroke-width="0.8"/>
<circle cx="556.6" cy="345.13" r="1.45" fill="none" stroke="#4a4a4a" stroke-width="0.8"/>
<circle cx="556.6" cy="345.93" r="1.45" fill="none" stroke="#4a4a4a" stroke-width="0.8"/>
<circle cx="556.6" cy="346.74" r="1.45" fill="none" stroke="#4a4a4a" stroke-width="0.8"/>
<circle cx="556.6" cy="347.54" r="1.45" fill="none" stroke="#4a4a4a" stroke-width="0.8"/>
<circle cx="556.6" cy="348.34" r="1.45" fill="none" stroke="#4a4a4a" stroke-width="0.8"/>
<circle cx="556.6" cy="349.14" r="1.45" fill="none" stroke="#4a4a4a" stroke-width="0.8"/>
<circle cx="556.6" cy="349.94" r="1.45" fill="none" stroke="#4a4a4a" stroke-width="0.8"/>
<circle cx="556.6" cy="350.74" r="1.45" fill="none" stroke="#4a4a4a" stroke-width="0.8"/>
<circle cx="556.6" cy="351.54" r="1.45" fill="none" stroke="#4a4a4a" stroke-width="0.8"/>
<circle cx="556.6" cy="352.35" r="1.45" fill="none" stroke="#4a4a4a" stroke-width="0.8"/>
<circle cx="556.6" cy="353.15" r="1.45" fill="none" stroke="#4a4a4a" stroke-width="0.8"/>
<circle cx="556.6" cy="353.95" r="1.45" fill="none" stroke="#4a4a4a" stroke-width="0.8"/>
<circle cx="556.6" cy="354.75" r="1.45" fill="none" stroke="#4a4a4a" stroke-width="0.8"/>
<circle cx="556.6" cy="355.55" r="1.45" fill="none" stroke="#4a4a4a" stroke-width="0.8"/>
<circle cx="556.6" cy="356.35" r="1.45" fill="none" stroke="#4a4a4a" stroke-width="0.8"/>
<circle cx="556.6" cy="357.16" r="1.45" fill="none" stroke="#4a4a4a" stroke-width="0.8"/>
<circle cx="556.6" cy="357.96" r="1.45" fill="none" stroke="#4a4a4a" stroke-width="0.8"/>
<circle cx="556.6" cy="358.76" r="1.45" fill="none" stroke="#4a4a4a" stroke-width="0.8"/>
<circle cx="556.6" cy="359.56" r="1.45" fill="none" stroke="#4a4a4a" stroke-width="0.8"/>
<circle cx="556.6" cy="360.36" r="1.45" fill="none" stroke="#4a4a4a" stroke-width="0.8"/>
<circle cx="556.6" cy="361.16" r="1.45" fill="none" stroke="#4a4a4a" stroke-width="0.8"/>
<circle cx="556.6" cy="361.96" r="1.45" fill="none" stroke="#4a4a4a" stroke-width="0.8"/>
<circle cx="556.6" cy="362.77" r="1.45" fill="none" stroke="#4a4a4a" stroke-width="0.8"/>
<circle cx="556.6" cy="363.57" r="1.45" fill="none" stroke="#4a4a4a" stroke-width="0.8"/>
<circle cx="556.6" cy="364.37" r="1.45" fill="none" stroke="#4a4a4a" stroke-width="0.8"/>
<circle cx="556.6" cy="365.17" r="1.45" fill="none" stroke="#4a4a4a" stroke-width="0.8"/>
<circle cx="556.6" cy="365.97" r="1.45" fill="none" stroke="#4a4a4a" stroke-width="0.8"/>
<circle cx="556.6" cy="366.77" r="1.45" fill="none" stroke="#4a4a4a" stroke-width="0.8"/>
<circle cx="556.6" cy="367.57" r="1.45" fill="none" stroke="#4a4a4a" stroke-width="0.8"/>
<circle cx="556.6" cy="368.38" r="1.45" fill="none" stroke="#4a4a4a" stroke-width="0.8"/>
<circle cx="556.6" cy="369.18" r="1.45" fill="none" stroke="#4a4a4a" stroke-width="0.8"/>
<circle cx="556.6" cy="369.98" r="1.45" fill="none" stroke="#4a4a4a" stroke-width="0.8"/>
<circle cx="556.6" cy="370.78" r="1.45" fill="none" stroke="#4a4a4a" stroke-width="0.8"/>
<circle cx="556.6" cy="371.58" r="1.45" fill="none" stroke="#4a4a4a" stroke-width="0.8"/>
<circle cx="556.6" cy="372.38" r="1.45" fill="none" stroke="#4a4a4a" stroke-width="0.8"/>
<circle cx="556.6" cy="373.18" r="1.45" fill="none" stroke="#4a4a4a" stroke-width="0.8"/>
<circle cx="556.6" cy="373.99" r="1.45" fill="none" stroke="#4a4a4a" stroke-width="0.8"/>
<circle cx="556.6" cy="374.79" r="1.45" fill="none" stroke="#4a4a4a" stroke-width="0.8"/>
<circle cx="556.6" cy="375.59" r="1.45" fill="none" stroke="#4a4a4a" stroke-width="0.8"/>
<circle cx="556.6" cy="376.39" r="1.45" fill="none" stroke="#4a4a4a" stroke-width="0.8"/>
<circle cx="556.6" cy="377.19" r="1.45" fill="none" stroke="#4a4a4a" stroke-width="0.8"/>
<circle cx="556.6" cy="377.99" r="1.45" fill="none" stroke="#4a4a4a" stroke-width="0.8"/>
<circle cx="556.6" cy="378.79" r="1.45" fill="none" stroke="#4a4a4a" stroke-width="0.8"/>
<circle cx="556.6" cy="379.6" r="1.45" fill="none" stroke="#4a4a4a" stroke-width="0.8"/>
<circle cx="556.6" cy="380.4" r="1.45" fill="none" stroke="#4a4a4a" stroke-width="0.8"/>
<circle cx="556.6" cy="381.2" r="1.45" fill="none" stroke="#4a4a4a" stroke-width="0.8"/>
<circle cx="556.6" cy="382" r="1.45" fill="none" stroke="#4a4a4a" stroke-width="0.8"/>
<line x1="608.5" y1="449.3" x2="608.5" y2="457.3" stroke="#666666" stroke-width="1" stroke-dasharray="4.5 2.85"/>
<line x1="608.5" y1="466.4" x2="608.5" y2="462.7" stroke="#666666" stroke-width="1" stroke-dasharray="4.5 2.85"/>
<line x1="597.7" y1="449.3" x2="619.3" y2="449.3" stroke="#666666" stroke-width="1.1"/>
<line x1="597.7" y1="466.4" x2="619.3" y2="466.4" stroke="#666666" stroke-width="1.1"/>
<rect x="587.5" y="457.3" width="42" height="5.4" fill="#A2CD5A" stroke="#666666" stroke-width="1.1"/>
<line x1="588" y1="460.4" x2="629" y2="460.4" stroke="#666666" stroke-width="2.6"/>
<circle cx="608.5" cy="364" r="1.45" fill="none" stroke="#4a4a4a" stroke-width="0.8"/>
<circle cx="608.5" cy="402.2" r="1.45" fill="none" stroke="#4a4a4a" stroke-width="0.8"/>
<circle cx="608.5" cy="407" r="1.45" fill="none" stroke="#4a4a4a" stroke-width="0.8"/>
<circle cx="608.5" cy="411.3" r="1.45" fill="none" stroke="#4a4a4a" stroke-width="0.8"/>
<circle cx="608.5" cy="420" r="1.45" fill="none" stroke="#4a4a4a" stroke-width="0.8"/>
<circle cx="608.5" cy="420.81" r="1.45" fill="none" stroke="#4a4a4a" stroke-width="0.8"/>
<circle cx="608.5" cy="421.61" r="1.45" fill="none" stroke="#4a4a4a" stroke-width="0.8"/>
<circle cx="608.5" cy="422.42" r="1.45" fill="none" stroke="#4a4a4a" stroke-width="0.8"/>
<circle cx="608.5" cy="423.22" r="1.45" fill="none" stroke="#4a4a4a" stroke-width="0.8"/>
<circle cx="608.5" cy="424.03" r="1.45" fill="none" stroke="#4a4a4a" stroke-width="0.8"/>
<circle cx="608.5" cy="424.83" r="1.45" fill="none" stroke="#4a4a4a" stroke-width="0.8"/>
<circle cx="608.5" cy="425.64" r="1.45" fill="none" stroke="#4a4a4a" stroke-width="0.8"/>
<circle cx="608.5" cy="426.44" r="1.45" fill="none" stroke="#4a4a4a" stroke-width="0.8"/>
<circle cx="608.5" cy="427.25" r="1.45" fill="none" stroke="#4a4a4a" stroke-width="0.8"/>
<circle cx="608.5" cy="428.06" r="1.45" fill="none" stroke="#4a4a4a" stroke-width="0.8"/>
<circle cx="608.5" cy="428.86" r="1.45" fill="none" stroke="#4a4a4a" stroke-width="0.8"/>
<circle cx="608.5" cy="429.67" r="1.45" fill="none" stroke="#4a4a4a" stroke-width="0.8"/>
<circle cx="608.5" cy="430.47" r="1.45" fill="none" stroke="#4a4a4a" stroke-width="0.8"/>
<circle cx="608.5" cy="431.28" r="1.45" fill="none" stroke="#4a4a4a" stroke-width="0.8"/>
<circle cx="608.5" cy="432.08" r="1.45" fill="none" stroke="#4a4a4a" stroke-width="0.8"/>
<circle cx="608.5" cy="432.89" r="1.45" fill="none" stroke="#4a4a4a" stroke-width="0.8"/>
<circle cx="608.5" cy="433.69" r="1.45" fill="none" stroke="#4a4a4a" stroke-width="0.8"/>
<circle cx="608.5" cy="434.5" r="1.45" fill="none" stroke="#4a4a4a" stroke-width="0.8"/>
<circle cx="608.5" cy="435.31" r="1.45" fill="none" stroke="#4a4a4a" stroke-width="0.8"/>
<circle cx="608.5" cy="436.11" r="1.45" fill="none" stroke="#4a4a4a" stroke-width="0.8"/>
<circle cx="608.5" cy="436.92" r="1.45" fill="none" stroke="#4a4a4a" stroke-width="0.8"/>
<circle cx="608.5" cy="437.72" r="1.45" fill="none" stroke="#4a4a4a" stroke-width="0.8"/>
<circle cx="608.5" cy="438.53" r="1.45" fill="none" stroke="#4a4a4a" stroke-width="0.8"/>
<circle cx="608.5" cy="439.33" r="1.45" fill="none" stroke="#4a4a4a" stroke-width="0.8"/>
<circle cx="608.5" cy="440.14" r="1.45" fill="none" stroke="#4a4a4a" stroke-width="0.8"/>
<circle cx="608.5" cy="440.94" r="1.45" fill="none" stroke="#4a4a4a" stroke-width="0.8"/>
<circle cx="608.5" cy="441.75" r="1.45" fill="none" stroke="#4a4a4a" stroke-width="0.8"/>
<circle cx="608.5" cy="442.56" r="1.45" fill="none" stroke="#4a4a4a" stroke-width="0.8"/>
<circle cx="608.5" cy="443.36" r="1.45" fill="none" stroke="#4a4a4a" stroke-width="0.8"/>
<circle cx="608.5" cy="444.17" r="1.45" fill="none" stroke="#4a4a4a" stroke-width="0.8"/>
<circle cx="608.5" cy="444.97" r="1.45" fill="none" stroke="#4a4a4a" stroke-width="0.8"/>
<circle cx="608.5" cy="445.78" r="1.45" fill="none" stroke="#4a4a4a" stroke-width="0.8"/>
<circle cx="608.5" cy="446.58" r="1.45" fill="none" stroke="#4a4a4a" stroke-width="0.8"/>
<circle cx="608.5" cy="447.39" r="1.45" fill="none" stroke="#4a4a4a" stroke-width="0.8"/>
<circle cx="608.5" cy="448.19" r="1.45" fill="none" stroke="#4a4a4a" stroke-width="0.8"/>
<circle cx="608.5" cy="449" r="1.45" fill="none" stroke="#4a4a4a" stroke-width="0.8"/>
<line x1="660.5" y1="440.4" x2="660.5" y2="452.6" stroke="#666666" stroke-width="1" stroke-dasharray="4.5 2.85"/>
<line x1="660.5" y1="464.4" x2="660.5" y2="461.4" stroke="#666666" stroke-width="1" stroke-dasharray="4.5 2.85"/>
<line x1="649.7" y1="440.4" x2="671.3" y2="440.4" stroke="#666666" stroke-width="1.1"/>
<line x1="649.7" y1="464.4" x2="671.3" y2="464.4" stroke="#666666" stroke-width="1.1"/>
<rect x="639.5" y="452.6" width="42" height="8.8" fill="#458B74" stroke="#666666" stroke-width="1.1"/>
<line x1="640" y1="456.9" x2="681" y2="456.9" stroke="#666666" stroke-width="2.6"/>
<circle cx="660.5" cy="428.1" r="1.45" fill="none" stroke="#4a4a4a" stroke-width="0.8"/>
<circle cx="660.5" cy="435.2" r="1.45" fill="none" stroke="#4a4a4a" stroke-width="0.8"/>
<circle cx="660.5" cy="436.07" r="1.45" fill="none" stroke="#4a4a4a" stroke-width="0.8"/>
<circle cx="660.5" cy="436.93" r="1.45" fill="none" stroke="#4a4a4a" stroke-width="0.8"/>
<circle cx="660.5" cy="437.8" r="1.45" fill="none" stroke="#4a4a4a" stroke-width="0.8"/>
<circle cx="660.5" cy="438.67" r="1.45" fill="none" stroke="#4a4a4a" stroke-width="0.8"/>
<circle cx="660.5" cy="439.53" r="1.45" fill="none" stroke="#4a4a4a" stroke-width="0.8"/>
<circle cx="660.5" cy="440.4" r="1.45" fill="none" stroke="#4a4a4a" stroke-width="0.8"/>
<text x="556.6" y="495.8" text-anchor="middle" font-size="12.5">Small</text>
<text x="608.3" y="495.8" text-anchor="middle" font-size="12.5">Large</text>
<text x="659.6" y="495.8" text-anchor="middle" font-size="12.5">Restrain</text>
<path d="M556.7 500.6V507.3H607.6V500.6" fill="none" stroke="#333333" stroke-width="1.1"/>
<text x="581.2" y="522.6" text-anchor="middle" font-size="14">Food size</text>
<text transform="translate(489.1,373.5) rotate(-90)" text-anchor="middle" font-size="14.33">RMS amplitude</text>
<text x="532.5" y="297.6" font-size="19" letter-spacing="0.9">f)</text>
</svg>
</body></html>
